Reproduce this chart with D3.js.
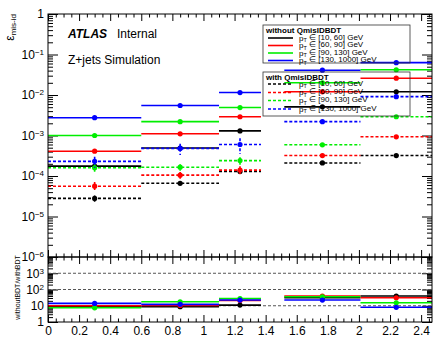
<!DOCTYPE html>
<html>
<head>
<meta charset="utf-8">
<script src="https://cdn.jsdelivr.net/npm/d3@7"></script>
<style>
  body { margin: 0; background: #fff; }
</style>
</head>
<body>
<div class="container"></div>
<script>
// eta bins
const binLo = [0, 0.6, 1.1, 1.52, 2.01];
const binHi = [0.6, 1.1, 1.37, 2.01, 2.47];

const ptLabels = ["[10, 60]", "[60, 90]", "[90, 130]", "[130, 1000]"];
const colors = ["#000000", "#ff0000", "#00ee00", "#0000ff"];

// without QmisIDBDT (solid)
const noBdtBlack = [1.75e-4, 4.9e-4, 1.3e-3, 5.1e-3, 1.2e-2];
const noBdtRed   = [4.1e-4, 1.1e-3, 2.9e-3, 1.2e-2, 2.6e-2];
const noBdtGreen = [1.0e-3, 2.2e-3, 4.9e-3, 2.0e-2, 4.2e-2];
const noBdtBlue  = [2.75e-3, 5.5e-3, 1.15e-2, 4.1e-2, 6.3e-2];

// with QmisIDBDT (dashed)
const bdtBlack = [2.8e-5, 6.6e-5, 1.3e-4, 2.1e-4, 3.2e-4];
const bdtRed   = [5.6e-5, 1.05e-4, 1.4e-4, 3.2e-4, 9.3e-4];
const bdtGreen = [1.6e-4, 1.65e-4, 2.4e-4, 5.9e-4, 2.9e-3];
const bdtBlue  = [2.3e-4, 4.8e-4, 6.0e-4, 2.2e-3, 9.1e-3];

const bdtErrBlack = [0.5e-5, 0.8e-5, 1.5e-5, 0, 0];
const bdtErrRed   = [1.5e-5, 2.0e-5, 3.5e-5, 0, 0];
const bdtErrGreen = [0.4e-4, 0.3e-4, 0.5e-4, 0, 0];
const bdtErrBlue  = [0.7e-4, 1.5e-4, 2.5e-4, 0, 0];

// withoutBDT / withBDT
const ratioBlack = [8.7, 8.7, 11, 31, 39.5];
const ratioRed   = [9.9, 10.4, 21, 39.5, 31];
const ratioGreen = [7.5, 17.6, 28, 35.5, 15.3];
const ratioBlue  = [14, 12.2, 22.4, 22.4, 8];

const refLines = [10, 100, 1000];

const noBdt = [noBdtBlack, noBdtRed, noBdtGreen, noBdtBlue];
const bdt = [bdtBlack, bdtRed, bdtGreen, bdtBlue];
const bdtErr = [bdtErrBlack, bdtErrRed, bdtErrGreen, bdtErrBlue];
const ratios = [ratioBlack, ratioRed, ratioGreen, ratioBlue];

const F = "'Liberation Sans', Arial, Helvetica, sans-serif";
const w = 435, h = 337;
const L = 48, R = 432, T = 14, M = 257, B = 322;

const svg = d3.select(".container").append("svg")
  .attr("width", w).attr("height", h)
  .style("font-family", F);

const x = d3.scaleLinear().domain([0, 2.47]).range([L, R]);
const yTop = d3.scaleLog().domain([1e-6, 1]).range([M, T]);
const yBot = d3.scaleLog().domain([1, 1e4]).range([B, M]);

function supText(textSel, v) {
  const e = Math.round(Math.log10(v));
  textSel.text(null);
  if (e === 0) { textSel.append("tspan").text("1"); return; }
  if (e === 1) { textSel.append("tspan").text("10"); return; }
  textSel.append("tspan").text("10");
  textSel.append("tspan").attr("dy", "-0.5em").attr("font-size", 8).text(String(e).replace("-", "\u2212"));
}

function clean(g) {
  g.select(".domain").remove();
  g.selectAll("line").attr("stroke", "#000").attr("stroke-width", 1);
  g.selectAll("text").attr("font-family", F).attr("font-size", 12).attr("fill", "#000");
}

const isMajor = v => Math.abs(Math.log10(v) - Math.round(Math.log10(v))) < 1e-6;

// ---- y axes (upper pad)
const topMajors = yTop.ticks().filter(isMajor);
const topMinors = yTop.ticks().filter(v => !isMajor(v));
const gyl = svg.append("g").attr("transform", `translate(${L},0)`)
  .call(d3.axisLeft(yTop).tickValues(topMajors).tickSize(-10).tickPadding(4).tickFormat(() => ""));
clean(gyl);
gyl.selectAll(".tick text").each(function(d) { supText(d3.select(this), d); });
svg.append("g").attr("transform", `translate(${L},0)`)
  .call(d3.axisLeft(yTop).tickValues(topMinors).tickSize(-5).tickFormat(() => "")).call(clean);
svg.append("g").attr("transform", `translate(${R},0)`)
  .call(d3.axisRight(yTop).tickValues(topMajors).tickSize(-10).tickFormat(() => "")).call(clean);
svg.append("g").attr("transform", `translate(${R},0)`)
  .call(d3.axisRight(yTop).tickValues(topMinors).tickSize(-5).tickFormat(() => "")).call(clean);

// ---- y axes (lower pad)
const botMajors = yBot.ticks().filter(isMajor);
const botMinors = yBot.ticks().filter(v => !isMajor(v));
const gbl = svg.append("g").attr("transform", `translate(${L},0)`)
  .call(d3.axisLeft(yBot).tickValues(botMajors.filter(v => v < 1e4)).tickSize(-10).tickPadding(4).tickFormat(() => ""));
clean(gbl);
gbl.selectAll(".tick text").each(function(d) { supText(d3.select(this), d); });
svg.append("g").attr("transform", `translate(${L},0)`)
  .call(d3.axisLeft(yBot).tickValues(botMinors).tickSize(-5).tickFormat(() => "")).call(clean);
svg.append("g").attr("transform", `translate(${R},0)`)
  .call(d3.axisRight(yBot).tickValues(botMajors).tickSize(-10).tickFormat(() => "")).call(clean);
svg.append("g").attr("transform", `translate(${R},0)`)
  .call(d3.axisRight(yBot).tickValues(botMinors).tickSize(-5).tickFormat(() => "")).call(clean);

// ---- x axes
const xMajors = d3.range(0, 2.41, 0.2);
const xMinors = d3.range(0, 2.47, 0.05).filter(v => Math.abs(v / 0.2 - Math.round(v / 0.2)) > 1e-6);
[[T, d3.axisTop], [M, d3.axisBottom], [M, d3.axisTop], [B, d3.axisBottom]].forEach(([yy, ax]) => {
  svg.append("g").attr("transform", `translate(0,${yy})`)
    .call(ax(x).tickValues(xMajors).tickSize(-7).tickFormat(() => "")).call(clean);
  svg.append("g").attr("transform", `translate(0,${yy})`)
    .call(ax(x).tickValues(xMinors).tickSize(-3.5).tickFormat(() => "")).call(clean);
});
svg.append("g").attr("transform", `translate(0,${B})`)
  .call(d3.axisBottom(x).tickValues(xMajors).tickSize(0).tickPadding(4).tickFormat(d => d3.format("~g")(+d.toFixed(1))))
  .call(clean);

// ---- ratio reference lines
svg.append("g").selectAll("line").data(refLines).join("line")
  .attr("x1", L).attr("x2", R)
  .attr("y1", d => yBot(d)).attr("y2", d => yBot(d))
  .attr("stroke", "#555").attr("stroke-width", 1).attr("stroke-dasharray", "3,2");

// ---- series
function drawSeries(g, vals, errs, color, yS, dashed) {
  const dash = dashed ? "3,2" : null;
  const s = g.append("g");
  vals.forEach((v, i) => {
    const cx = x((binLo[i] + binHi[i]) / 2);
    s.append("line").attr("x1", x(binLo[i])).attr("x2", x(binHi[i]))
      .attr("y1", yS(v)).attr("y2", yS(v))
      .attr("stroke", color).attr("stroke-width", 1.6).attr("stroke-dasharray", dash);
    const e = errs ? errs[i] : 0;
    if (e > 0) {
      s.append("line").attr("x1", cx).attr("x2", cx)
        .attr("y1", yS(v + e)).attr("y2", yS(Math.max(v - e, 1e-7)))
        .attr("stroke", color).attr("stroke-width", 1.6).attr("stroke-dasharray", dash);
    }
    s.append("circle").attr("cx", cx).attr("cy", yS(v)).attr("r", 2.6).attr("fill", color);
  });
}
const plot = svg.append("g");
noBdt.forEach((vals, k) => drawSeries(plot, vals, null, colors[k], yTop, false));
bdt.forEach((vals, k) => drawSeries(plot, vals, bdtErr[k], colors[k], yTop, true));
ratios.forEach((vals, k) => drawSeries(plot, vals, null, colors[k], yBot, false));

// ---- frames
svg.append("rect").attr("x", L).attr("y", T).attr("width", R - L).attr("height", M - T)
  .attr("fill", "none").attr("stroke", "#000");
svg.append("rect").attr("x", L).attr("y", M).attr("width", R - L).attr("height", B - M)
  .attr("fill", "none").attr("stroke", "#000");

// ---- labels
const yl = svg.append("text").attr("transform", `translate(14,${T}) rotate(-90)`)
  .attr("text-anchor", "end").attr("font-size", 12);
yl.append("tspan").text("\u03b5");
yl.append("tspan").attr("dy", "0.3em").attr("font-size", 8).text("mis-id");

svg.append("text").attr("transform", `translate(20,${(M + B) / 2 - 2}) rotate(-90)`)
  .attr("text-anchor", "middle").attr("font-size", 7).text("withoutBDT/withBDT");

const atl = svg.append("text").attr("x", 68).attr("y", 38).attr("font-size", 12);
atl.append("tspan").attr("font-weight", "bold").attr("font-style", "italic").text("ATLAS");
atl.append("tspan").attr("x", 117).text("Internal");
svg.append("text").attr("x", 68).attr("y", 64).attr("font-size", 12).text("Z+jets Simulation");

// ---- legends
function legend(y0, y1, title, rowsY, dashed) {
  const g = svg.append("g");
  g.append("rect").attr("x", 263).attr("y", y0).attr("width", 147).attr("height", y1 - y0)
    .attr("fill", "none").attr("stroke", "#333").attr("stroke-width", 0.8);
  g.append("text").attr("x", 266).attr("y", y0 + 7.5).attr("font-size", 8).attr("font-weight", "bold").text(title);
  ptLabels.forEach((lab, k) => {
    const yy = rowsY[k];
    g.append("line").attr("x1", 268).attr("x2", 293).attr("y1", yy).attr("y2", yy)
      .attr("stroke", colors[k]).attr("stroke-width", 1.6).attr("stroke-dasharray", dashed ? "3,2" : null);
    const t = g.append("text").attr("x", 299).attr("y", yy + 2.5).attr("font-size", 8);
    t.append("tspan").text("p");
    t.append("tspan").attr("dy", "0.3em").attr("font-size", 5.5).text("T");
    t.append("tspan").attr("dy", "-0.3em").text(" \u2208 " + lab + " GeV");
  });
}
legend(25, 63, "without QmisIDBDT", [38, 45.5, 53, 60.5], false);
legend(72, 116, "with QmisIDBDT", [84, 92.5, 100.5, 109], true);
</script>
</body>
</html>
